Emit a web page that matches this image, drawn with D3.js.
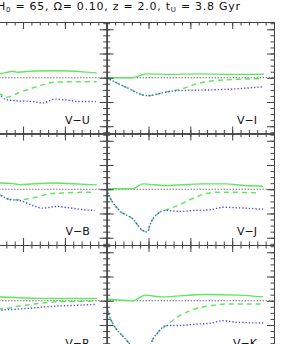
<!DOCTYPE html>
<html>
<head>
<meta charset="utf-8">
<script src="https://cdn.jsdelivr.net/npm/d3@7"></script>
<style>
  body { margin: 0; background: #fff; }
  svg { display: block; }
</style>
</head>
<body>
<div id="container"></div>
<script>
// panel layout: [name, column, row]
const panels = [["V\u2212U", 0, 0], ["V\u2212I", 1, 0], ["V\u2212B", 0, 1], ["V\u2212J", 1, 1], ["V\u2212R", 0, 2], ["V\u2212K", 1, 2]];

// age (Gyr) , colour difference
const solid = {
  "V\u2212U": [[1.40,0.08],[1.44,0.082],[1.75,0.13],[1.87,0.115],[2.28,0.14],[2.7,0.145],[3.11,0.14],[3.59,0.11],[3.76,0.10]],
  "V\u2212I": [[0,0.0],[0.62,0.0],[0.8,0.05],[0.98,0.08],[1.5,0.07],[2.2,0.08],[3.0,0.07],[3.76,0.072]],
  "V\u2212B": [[1.40,0.13],[1.44,0.13],[1.75,0.117],[1.92,0.096],[2.71,0.13],[3.04,0.12],[3.76,0.09]],
  "V\u2212J": [[0,0.01],[0.62,0.01],[0.86,0.11],[1.39,0.076],[2.28,0.11],[2.83,0.11],[3.3,0.076],[3.74,0.062]],
  "V\u2212R": [[1.40,0.076],[1.44,0.076],[2.4,0.05],[3.76,0.05]],
  "V\u2212K": [[0,0.035],[0.62,0.0],[0.86,0.10],[0.91,0.117],[1.31,0.08],[2.35,0.13],[3.14,0.117],[3.74,0.08]]
};
const dashed = {
  "V\u2212U": [[1.40,-0.33],[1.44,-0.335],[1.60,-0.40],[1.92,-0.30],[2.40,-0.164],[2.71,-0.096],[3.04,-0.085],[3.76,-0.082]],
  "V\u2212I": [[0,0],[0.47,-0.2],[0.98,-0.37],[1.39,-0.30],[1.79,-0.23],[2.18,-0.117],[2.42,-0.076],[2.90,-0.04],[3.74,-0.02]],
  "V\u2212B": [[1.40,-0.10],[1.44,-0.115],[1.68,-0.21],[1.92,-0.217],[2.32,-0.164],[2.63,-0.094],[3.04,-0.074],[3.71,-0.06]],
  "V\u2212J": [[0,0],[0.02,-0.06],[0.07,-0.16],[0.31,-0.44],[0.62,-0.61],[0.86,-0.85],[0.98,-0.88],[1.03,-0.745],[1.22,-0.505],[1.39,-0.437],[1.70,-0.335],[2.04,-0.197],[2.35,-0.094],[2.66,-0.06],[3.66,-0.074]],
  "V\u2212R": [[1.40,-0.17],[1.44,-0.17],[1.92,-0.11],[2.4,-0.053],[2.87,-0.02],[3.76,-0.006]],
  "V\u2212K": [[0,0],[0.03,-0.23],[0.5,-0.84],[0.8,-1.15],[0.95,-1.3],[1.07,-0.87],[1.22,-0.66],[1.43,-0.51],[1.70,-0.33],[2.11,-0.17],[2.51,-0.10],[2.83,-0.068],[3.74,-0.068]]
};
const dotted = {
  "V\u2212U": [[1.40,-0.36],[1.44,-0.37],[1.60,-0.45],[1.76,-0.47],[2.23,-0.49],[2.47,-0.52],[2.76,-0.44],[3.04,-0.46],[3.35,-0.49],[3.74,-0.49]],
  "V\u2212I": [[0,0],[0.47,-0.2],[0.98,-0.37],[1.39,-0.30],[1.70,-0.267],[2.51,-0.25],[3.07,-0.23],[3.74,-0.185]],
  "V\u2212B": [[1.40,-0.10],[1.44,-0.115],[1.68,-0.21],[1.92,-0.232],[2.23,-0.335],[2.47,-0.39],[2.8,-0.355],[3.04,-0.375],[3.43,-0.42],[3.71,-0.437]],
  "V\u2212J": [[0,0],[0.02,-0.06],[0.07,-0.16],[0.31,-0.44],[0.62,-0.61],[0.86,-0.85],[0.98,-0.88],[1.03,-0.745],[1.22,-0.505],[1.39,-0.437],[1.46,-0.437],[1.70,-0.457],[2.11,-0.437],[2.51,-0.42],[2.78,-0.37],[3.07,-0.38],[3.74,-0.41]],
  "V\u2212R": [[1.40,-0.19],[1.44,-0.19],[1.92,-0.17],[2.63,-0.12],[3.43,-0.088],[3.76,-0.074]],
  "V\u2212K": [[0,0],[0.03,-0.23],[0.5,-0.84],[0.8,-1.15],[0.95,-1.3],[1.07,-0.87],[1.22,-0.66],[1.43,-0.51],[1.70,-0.51],[2.18,-0.48],[2.51,-0.46],[2.78,-0.41],[3.07,-0.44],[3.74,-0.46]]
};

const xMajor = [0, 1, 2, 3, 4];
const xMinor = d3.range(0, 4.001, 0.2);
const yMajor = [-1, -0.5, 0, 0.5, 1];
const yMinor = d3.range(-1.125, 1.13, 0.125);

const W = 295, H = 344;
const midX = 106.7, panelW = 167.3, top0 = 22, panelH = 111.5;

const svg = d3.select("#container").append("svg")
    .attr("width", W)
    .attr("height", H)
    .style("font-family", "'DejaVu Sans', sans-serif");

// title
const title = svg.append("text")
    .attr("x", -3)
    .attr("y", 10)
    .attr("font-size", 11)
    .attr("fill", "#111")
    .attr("textLength", 243)
    .attr("lengthAdjust", "spacing");
title.append("tspan").text("H");
title.append("tspan").attr("font-size", 7).attr("dy", 2).text("0");
title.append("tspan").attr("dy", -2).text(" = 65, \u03a9= 0.10, z = 2.0, t");
title.append("tspan").attr("font-size", 7).attr("dy", 2).text("U");
title.append("tspan").attr("dy", -2).text(" = 3.8 Gyr");

const line = d3.line().curve(d3.curveMonotoneX);

panels.forEach(([name, col, row], i) => {
    const px = col === 0 ? midX - panelW : midX;
    const py = top0 + row * panelH;
    const x = d3.scaleLinear().domain([0, 4]).range([px, px + panelW]);
    const y = d3.scaleLinear().domain([-1.15, 1.15]).range([py + panelH, py]);

    svg.append("clipPath").attr("id", "clip" + i)
        .append("rect").attr("x", px).attr("y", py).attr("width", panelW).attr("height", panelH);

    const g = svg.append("g").attr("clip-path", "url(#clip" + i + ")");
    line.x(d => x(d[0])).y(d => y(d[1]));

    // zero line
    g.append("line")
        .attr("x1", px).attr("x2", px + panelW)
        .attr("y1", y(0)).attr("y2", y(0))
        .attr("stroke", "#333").attr("stroke-width", 1)
        .attr("stroke-dasharray", "1,2");

    g.append("path").datum(solid[name]).attr("d", line)
        .attr("fill", "none").attr("stroke", "#5ee85e").attr("stroke-width", 1.4);
    g.append("path").datum(dashed[name]).attr("d", line)
        .attr("fill", "none").attr("stroke", "#5ee85e").attr("stroke-width", 1.5)
        .attr("stroke-dasharray", "5,4");
    g.append("path").datum(dotted[name]).attr("d", line)
        .attr("fill", "none").attr("stroke", "#4a4af0").attr("stroke-width", 1.4)
        .attr("stroke-dasharray", "1.3,2");

    // frame with inward ticks
    const ax = svg.append("g").attr("class", "axes");
    const sides = [
        [d3.axisBottom(x), xMajor, xMinor, 0, py],
        [d3.axisTop(x), xMajor, xMinor, 0, py + panelH],
        [d3.axisRight(y), yMajor, yMinor, px, 0],
        [d3.axisLeft(y), yMajor, yMinor, px + panelW, 0]
    ];
    sides.forEach(([axis, major, minor, tx, ty]) => {
        ax.append("g").attr("transform", `translate(${tx},${ty})`)
            .call(axis.tickValues(minor).tickSize(3.5).tickFormat("").tickSizeOuter(0));
        ax.append("g").attr("transform", `translate(${tx},${ty})`)
            .call(axis.tickValues(major).tickSize(7).tickFormat("").tickSizeOuter(0));
    });

    svg.append("text")
        .attr("x", px + panelW - 17)
        .attr("y", py + panelH - 10)
        .attr("text-anchor", "end")
        .attr("font-size", 11)
        .attr("fill", "#111")
        .text(name);
});

svg.selectAll(".axes path, .axes line").attr("stroke", "#444").attr("stroke-width", 1);
</script>
</body>
</html>
